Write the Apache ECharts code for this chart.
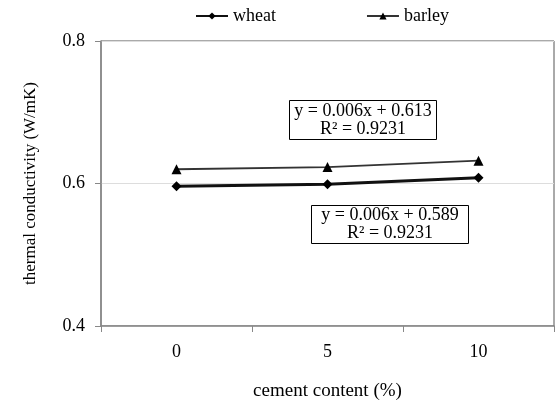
<!DOCTYPE html>
<html>
<head>
<meta charset="utf-8">
<script src="https://cdn.jsdelivr.net/npm/echarts@6/dist/echarts.min.js"></script>
<style>html,body{margin:0;padding:0;background:#fff}#c{width:555px;height:408px}</style>
</head>
<body>
<div id="c"></div>
<script>
const categories = ['0', '5', '10'];
const wheat = [0.596, 0.599, 0.608];
const barley = [0.620, 0.623, 0.632];
const yTicks = [0.4, 0.6, 0.8];
const wheatEq = ['y = 0.006x + 0.589', 'R² = 0.9231'];
const barleyEq = ['y = 0.006x + 0.613', 'R² = 0.9231'];

const FONT = '"Liberation Serif", "Times New Roman", serif';
const FS = 18;
const chart = echarts.init(document.getElementById('c'));

function eqBox(lines, left, top, w, h) {
  return {
    type: 'group', left: left, top: top,
    children: [
      { type: 'rect', shape: { x: 0, y: 0, width: w, height: h }, style: { fill: '#fff', stroke: '#000', lineWidth: 1 } },
      { type: 'text', style: { x: w / 2, y: h / 2 - 9, text: lines[0], font: FS + 'px ' + FONT, fill: '#000', align: 'center', verticalAlign: 'middle' } },
      { type: 'text', style: { x: w / 2, y: h / 2 + 9, text: lines[1], font: FS + 'px ' + FONT, fill: '#000', align: 'center', verticalAlign: 'middle' } }
    ]
  };
}

chart.setOption({
  animation: false,
  grid: { left: 101, right: 1, top: 41, bottom: 82, show: true, borderColor: '#555', borderWidth: 1 },
  legend: {
    top: 7, left: 195, padding: 0, itemGap: 90, itemWidth: 32, itemHeight: 9,
    textStyle: { fontFamily: FONT, fontSize: FS, color: '#000' },
    data: ['wheat', 'barley']
  },
  xAxis: {
    type: 'category', data: categories, boundaryGap: true,
    name: 'cement content (%)', nameLocation: 'middle', nameGap: 56,
    nameTextStyle: { fontFamily: FONT, fontSize: 19, color: '#000' },
    axisLine: { lineStyle: { color: '#888', width: 1.5 } },
    axisTick: { show: true, length: 6, lineStyle: { color: '#888' } },
    axisLabel: { fontFamily: FONT, fontSize: FS, color: '#000', margin: 17 },
    splitLine: { show: false }
  },
  yAxis: {
    type: 'value', min: 0.4, max: 0.8, interval: 0.2,
    name: 'thermal conductivity (W/mK)', nameLocation: 'middle', nameGap: 62,
    nameTextStyle: { fontFamily: FONT, fontSize: 17, color: '#000' },
    axisLine: { show: true, lineStyle: { color: '#888', width: 1.5 } },
    axisTick: { show: true, length: 6, lineStyle: { color: '#888' } },
    axisLabel: { fontFamily: FONT, fontSize: FS, color: '#000', margin: 16, formatter: v => yTicks.includes(Math.round(v * 10) / 10) ? v.toFixed(1) : '' },
    splitLine: { show: true, lineStyle: { color: '#ddd', width: 1 } }
  },
  series: [
    { name: 'wheat', type: 'line', data: wheat, symbol: 'diamond', symbolSize: 10,
      itemStyle: { color: '#000' }, lineStyle: { color: '#111', width: 3 }, z: 3 },
    { name: 'barley', type: 'line', data: barley, symbol: 'triangle', symbolSize: 10,
      itemStyle: { color: '#000' }, lineStyle: { color: '#333', width: 1.8 }, z: 3 }
  ],
  graphic: [
    eqBox(barleyEq, 289, 100, 147, 39),
    eqBox(wheatEq, 311, 205, 157, 38)
  ]
});
</script>
</body>
</html>
